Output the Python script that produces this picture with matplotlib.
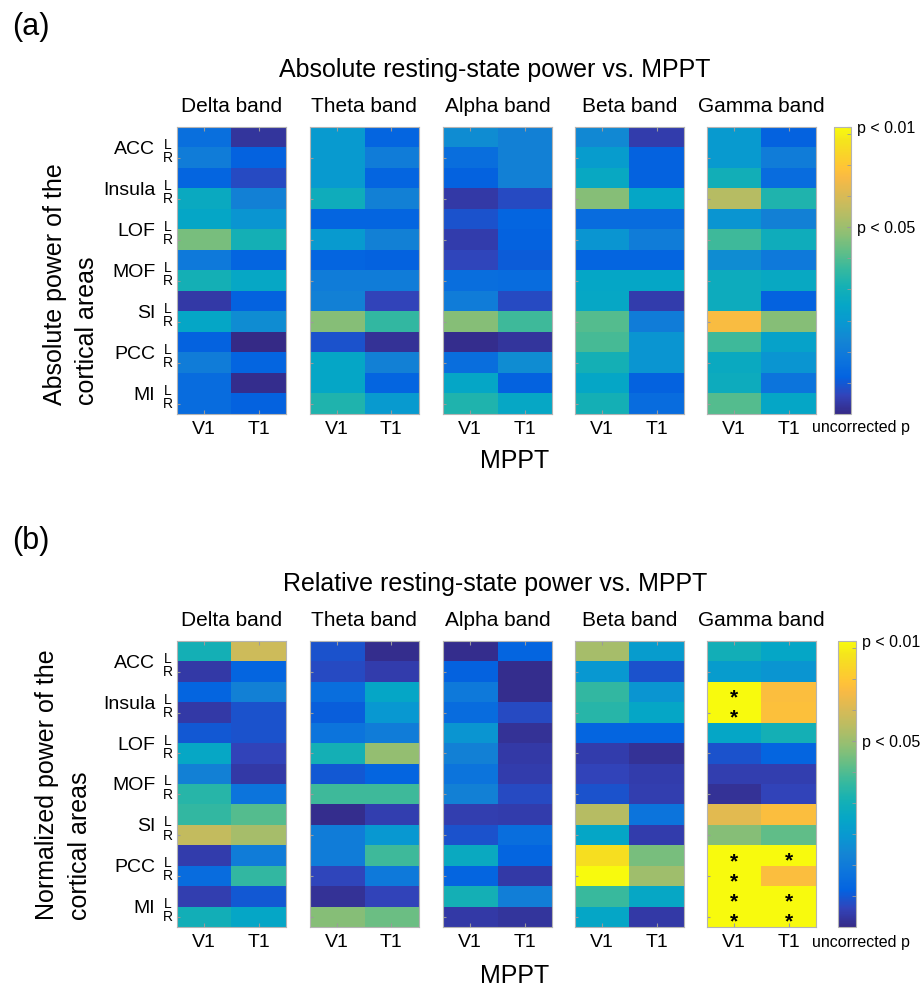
import numpy as np
import matplotlib
matplotlib.use('Agg')
import matplotlib.pyplot as plt
import matplotlib.transforms as mtransforms
from matplotlib.colors import LinearSegmentedColormap
from matplotlib.font_manager import FontProperties

plt.rcParams['font.family'] = ['Liberation Sans', 'DejaVu Sans']

# ---- data: colour value = -ln(p), rows ACC L, ACC R, Insula L, ..., MI R ----
areas = ['ACC', 'Insula', 'LOF', 'MOF', 'SI', 'PCC', 'MI']
bands = ['Delta band', 'Theta band', 'Alpha band', 'Beta band', 'Gamma band']
sites = ['V1', 'T1']

# (a) absolute power
abs_delta_v1 = [0.8, 1.01, 0.64, 1.84, 1.75, 2.76, 0.97, 2.02, 0.18, 1.75, 0.58, 1.01, 0.75, 0.75]
abs_delta_t1 = [0.14, 0.58, 0.37, 1.1, 1.43, 2.02, 0.64, 1.77, 0.58, 1.29, 0.0, 0.64, 0.05, 0.58]
abs_theta_v1 = [1.52, 1.52, 1.52, 1.93, 0.64, 1.52, 0.64, 1.01, 1.1, 2.85, 0.44, 1.75, 1.75, 2.14]
abs_theta_t1 = [0.64, 1.01, 0.64, 1.1, 0.64, 1.1, 0.58, 1.01, 0.3, 2.3, 0.1, 1.1, 0.64, 1.52]
abs_alpha_v1 = [1.29, 0.78, 0.58, 0.18, 0.44, 0.23, 0.32, 0.78, 1.01, 2.85, 0.05, 0.78, 1.75, 2.14]
abs_alpha_t1 = [1.1, 1.1, 1.1, 0.37, 0.64, 0.58, 0.53, 0.74, 0.37, 2.39, 0.14, 1.29, 0.58, 1.77]
abs_beta_v1 = [1.24, 1.56, 1.8, 2.85, 0.74, 1.43, 0.64, 1.75, 1.77, 2.53, 2.44, 2.02, 1.75, 2.02]
abs_beta_t1 = [0.23, 0.58, 0.58, 1.75, 0.74, 1.01, 0.64, 1.75, 0.23, 1.01, 1.43, 1.43, 0.58, 0.74]
abs_gamma_v1 = [1.52, 1.52, 1.98, 3.22, 1.43, 2.39, 1.29, 1.89, 1.89, 3.82, 2.39, 1.84, 1.89, 2.53]
abs_gamma_t1 = [0.58, 1.01, 0.74, 2.14, 1.1, 1.93, 0.97, 1.8, 0.58, 2.85, 1.66, 1.43, 0.87, 1.75]

# (b) normalized power
rel_delta_v1 = [2.02, 0.18, 0.64, 0.18, 0.5, 1.77, 1.1, 2.2, 2.3, 3.31, 0.23, 0.74, 0.25, 1.98]
rel_delta_t1 = [3.4, 0.64, 1.1, 0.44, 0.44, 0.3, 0.18, 0.87, 2.53, 3.08, 1.01, 2.3, 0.5, 1.75]
rel_theta_v1 = [0.44, 0.37, 0.78, 0.55, 0.87, 2.02, 0.5, 2.39, 0.05, 1.01, 1.01, 0.32, 0.1, 2.85]
rel_theta_t1 = [0.05, 0.23, 1.75, 1.47, 1.01, 2.94, 0.64, 2.39, 0.25, 1.47, 2.39, 0.97, 0.3, 2.67]
rel_alpha_v1 = [0.05, 0.58, 0.97, 0.74, 1.43, 1.1, 0.87, 1.1, 0.25, 0.44, 1.84, 0.64, 2.02, 0.18]
rel_alpha_t1 = [0.64, 0.05, 0.05, 0.37, 0.1, 0.18, 0.23, 0.37, 0.23, 0.78, 0.64, 0.18, 1.05, 0.14]
rel_beta_v1 = [3.08, 1.47, 2.3, 2.2, 0.64, 0.23, 0.3, 0.44, 3.22, 1.75, 4.3, 4.6, 2.35, 1.75]
rel_beta_t1 = [1.56, 0.44, 1.43, 1.75, 0.64, 0.1, 0.23, 0.25, 0.87, 0.23, 2.76, 3.03, 1.77, 0.18]
rel_gamma_v1 = [1.98, 1.56, 4.6, 4.6, 1.75, 0.44, 0.25, 0.1, 3.59, 2.85, 4.6, 4.6, 4.6, 4.6]
rel_gamma_t1 = [1.75, 1.43, 3.86, 3.89, 2.02, 0.64, 0.25, 0.3, 3.86, 2.6, 4.6, 3.86, 4.6, 4.6]

# corrected-significant cells (row indices) in gamma band of panel (b)
rel_gamma_sig_v1 = [2, 3, 10, 11, 12, 13]
rel_gamma_sig_t1 = [10, 12, 13]

# parula-like colour map
parula_pts = [
    (0.2081, 0.1663, 0.5292), (0.1959, 0.2645, 0.7279), (0.0117, 0.3875, 0.8820),
    (0.0498, 0.4586, 0.8641), (0.0793, 0.5200, 0.8312), (0.0343, 0.5966, 0.8199),
    (0.0228, 0.6535, 0.7768), (0.0843, 0.6928, 0.7062), (0.2178, 0.7250, 0.6193),
    (0.3953, 0.7459, 0.5244), (0.5709, 0.7485, 0.4494), (0.7184, 0.7411, 0.3905),
    (0.8507, 0.7299, 0.3360), (0.9739, 0.7314, 0.2666), (0.9990, 0.7653, 0.2164),
    (0.9880, 0.8066, 0.1794), (0.9589, 0.8949, 0.1132), (0.9763, 0.9831, 0.0538)]
parula_idx = [1, 5, 9, 13, 17, 21, 25, 29, 33, 37, 41, 45, 49, 53, 55, 57, 61, 64]
parula = LinearSegmentedColormap.from_list(
    'parula', [((i - 1) / 63.0, c) for i, c in zip(parula_idx, parula_pts)])

VMAX = -np.log(0.01)
W, H = 922, 988
DPI = 100


def fx(x):
    return x / W


def fy(y):
    return 1 - y / H


def runs(rows):
    # split sorted row indices into consecutive groups
    groups = []
    for r in rows:
        if groups and r == groups[-1][-1] + 1:
            groups[-1].append(r)
        else:
            groups.append([r])
    return groups


fig = plt.figure(figsize=(W / DPI, H / DPI), dpi=DPI)
renderer = fig.canvas.get_renderer()

lefts = [177, 309.5, 443, 575, 707]
axw = 109
gray = '#9a9a9a'
STAR_SIZE = 15
star_fp = FontProperties(family=['Liberation Sans', 'DejaVu Sans'],
                         size=STAR_SIZE, weight='bold')


def line_step(fp):
    # pixel step between two lines of text at linespacing 1
    t1 = fig.text(0, 0, '*', fontproperties=fp, linespacing=1.0)
    t2 = fig.text(0, 0, '*\n*', fontproperties=fp, linespacing=1.0)
    step = (t2.get_window_extent(renderer).height
            - t1.get_window_extent(renderer).height)
    t1.remove()
    t2.remove()
    return step


def draw_panel(data, top, bottom, letter, title, ylab, ylab_x, ylab_bottom,
               cb_left, cb_w, tick_base, sig=None):
    fig.text(fx(12), fy(top - 100), letter, fontsize=22, va='center', ha='left')
    fig.text(fx(495), fy(top - 50), title, fontsize=18, ha='center', va='baseline')
    for line, xx in zip(ylab, ylab_x):
        fig.text(fx(xx), fy(ylab_bottom), line, fontsize=18, rotation=90,
                 ha='center', va='bottom')
    row_px = (bottom - top) / 14.0
    for b, (v1, t1) in enumerate(data):
        ax = fig.add_axes([fx(lefts[b]), fy(bottom), axw / W, (bottom - top) / H])
        arr = np.column_stack([v1, t1])
        im = ax.imshow(arr, cmap=parula, vmin=0, vmax=VMAX, aspect='auto',
                       interpolation='nearest', extent=(0.5, 2.5, 14.5, 0.5))
        ax.set_xlim(0.5, 2.5)
        ax.set_ylim(14.5, 0.5)
        ax.set_xticks([1, 2])
        ax.set_xticklabels(sites)
        ax.set_yticks(np.arange(2, 15, 2))
        ax.set_yticklabels([])
        ax.tick_params(axis='x', direction='in', length=3, top=True, color=gray,
                       labelsize=14, pad=5)
        ax.tick_params(axis='y', direction='in', length=2.5, color=gray)
        for s in ax.spines.values():
            s.set_color('#b4b4b4')
            s.set_linewidth(0.8)
        ax.set_title(bands[b], fontsize=15, pad=11)
        if b == 0:
            trans = mtransforms.blended_transform_factory(ax.transAxes, ax.transData)
            for k, name in enumerate(areas):
                ax.text(-0.2, 2 * k + 1.5, name, transform=trans, fontsize=14,
                        ha='right', va='center_baseline')
                ax.text(-0.083, 2 * k + 1.3, 'L', transform=trans, fontsize=10,
                        ha='center', va='center_baseline')
                ax.text(-0.083, 2 * k + 1.95, 'R', transform=trans, fontsize=10,
                        ha='center', va='center_baseline')
        if sig is not None and b == 4:
            lsp = row_px / line_step(star_fp)
            em = STAR_SIZE * DPI / 72.0
            off = (0.585 * em - 1.5) / row_px   # baseline below the row centre
            for c, rows in enumerate(sig):
                for g in runs(rows):
                    # multi-line text: baseline anchor is the last line
                    ax.text(c + 1, g[-1] + 1 + off, '\n'.join(['*'] * len(g)),
                            fontproperties=star_fp, linespacing=lsp,
                            ha='center', va='baseline', color='black')
    cax = fig.add_axes([fx(cb_left), fy(bottom), cb_w / W, (bottom - top) / H])
    cb = fig.colorbar(im, cax=cax)
    cb.outline.set_edgecolor('#b4b4b4')
    cb.outline.set_linewidth(0.8)
    cax.set_yticks([-np.log(0.05), VMAX])
    cax.set_yticklabels(['p < 0.05', 'p < 0.01'])
    cax.set_yticks(np.arange(0.5, 4.6, 0.5), minor=True)
    cax.tick_params(which='both', direction='in', length=3, color=gray,
                    labelsize=11.5, pad=4)
    fig.text(fx(812), fy(tick_base - 3), 'uncorrected p', fontsize=11.5,
             ha='left', va='baseline')
    fig.text(fx(515), fy(tick_base + 33), 'MPPT', fontsize=18, ha='center',
             va='baseline')


abs_data = [(abs_delta_v1, abs_delta_t1), (abs_theta_v1, abs_theta_t1),
            (abs_alpha_v1, abs_alpha_t1), (abs_beta_v1, abs_beta_t1),
            (abs_gamma_v1, abs_gamma_t1)]
rel_data = [(rel_delta_v1, rel_delta_t1), (rel_theta_v1, rel_theta_t1),
            (rel_alpha_v1, rel_alpha_t1), (rel_beta_v1, rel_beta_t1),
            (rel_gamma_v1, rel_gamma_t1)]

draw_panel(abs_data, 127, 414, '(a)', 'Absolute resting-state power vs. MPPT',
           ['Absolute power of the', 'cortical areas'], [55, 87], 405,
           834, 17, 435)
draw_panel(rel_data, 641, 927, '(b)', 'Relative resting-state power vs. MPPT',
           ['Normalized power of the', 'cortical areas'], [47, 80], 920,
           838, 18, 950, sig=[rel_gamma_sig_v1, rel_gamma_sig_t1])

fig.savefig('out.png', dpi=DPI)
